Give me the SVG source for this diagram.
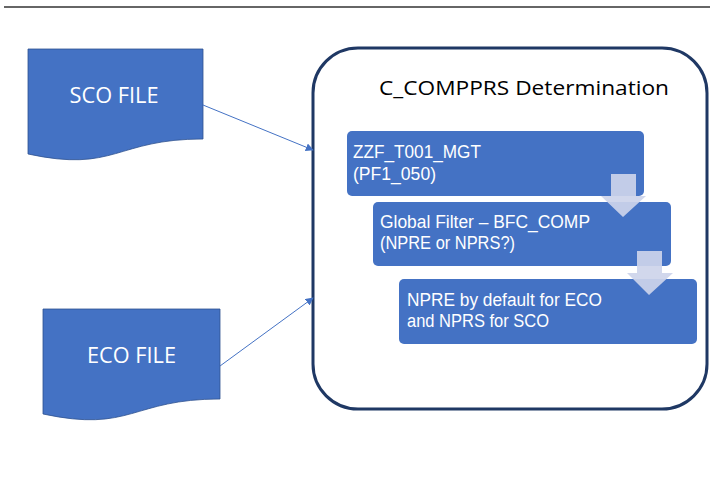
<svg xmlns="http://www.w3.org/2000/svg" width="710" height="504" viewBox="0 0 710 504">
<defs>
<style>
.doc{fill:#4472C4;stroke:#2F528F;stroke-width:0.8}
.box{fill:#4472C4}
.dt{font-family:"Open Sans","Noto Sans",sans-serif;font-size:21px;fill:#FFFFFF}
.bt{font-family:"Liberation Sans",Arial,sans-serif;font-size:18px;fill:#FFFFFF}
.tt{font-family:"Open Sans","Noto Sans",sans-serif;font-size:20px;fill:#000000}
.con{stroke:#4472C4;stroke-width:1;fill:none;marker-end:url(#ah)}
.dn{fill:#CDD4EA;opacity:0.92}
</style>
<marker id="ah" viewBox="0 0 10 10" refX="9" refY="5" markerWidth="8" markerHeight="8" markerUnits="userSpaceOnUse" orient="auto">
<path d="M0,0 L10,5 L0,10 Z" fill="#4472C4"/>
</marker>
</defs>
<rect width="710" height="504" fill="#FFFFFF"/>
<line x1="4" y1="7" x2="710" y2="7" stroke="#333333" stroke-width="1.3"/>
<g id="container">
<rect x="313" y="48" width="394" height="361" rx="45" ry="45" fill="#FFFFFF" stroke="#1F3864" stroke-width="3"/>
<text class="tt" x="379" y="95" textLength="290" lengthAdjust="spacingAndGlyphs">C_COMPPRS Determination</text>
</g>
<g id="sco">
<path class="doc" d="M28,49 H203 V139 C115.5,139 115.5,173 28,154 Z"/>
<text class="dt" x="114" y="103" text-anchor="middle" textLength="89" lengthAdjust="spacingAndGlyphs">SCO FILE</text>
</g>
<g id="eco">
<path class="doc" d="M43,309 H220 V399 C131.5,399 131.5,433 43,414 Z"/>
<text class="dt" x="131.5" y="363" text-anchor="middle" textLength="89" lengthAdjust="spacingAndGlyphs">ECO FILE</text>
</g>
<g id="step1">
<rect class="box" x="347" y="131" width="297" height="65" rx="5"/>
<text class="bt" x="353" y="158" textLength="128" lengthAdjust="spacingAndGlyphs">ZZF_T001_MGT</text>
<text class="bt" x="353" y="180" textLength="83" lengthAdjust="spacingAndGlyphs">(PF1_050)</text>
</g>
<g id="step2">
<rect class="box" x="373" y="202" width="298" height="64" rx="5"/>
<text class="bt" x="380" y="228" textLength="210" lengthAdjust="spacingAndGlyphs">Global Filter – BFC_COMP</text>
<text class="bt" x="380" y="249" textLength="135" lengthAdjust="spacingAndGlyphs">(NPRE or NPRS?)</text>
</g>
<g id="step3">
<rect class="box" x="399" y="279" width="298" height="65" rx="5"/>
<text class="bt" x="407" y="306" textLength="195" lengthAdjust="spacingAndGlyphs">NPRE by default for ECO</text>
<text class="bt" x="407" y="327" textLength="142" lengthAdjust="spacingAndGlyphs">and NPRS for SCO</text>
</g>
<g id="connectors">
<line class="con" x1="203" y1="105" x2="313" y2="150"/>
<line class="con" x1="220" y1="366" x2="313" y2="298"/>
<path class="dn" d="M611,174 H636 V196 H646 L623,217 L601,196 H611 Z"/>
<path class="dn" d="M637,251 H662 V273 H673 L649,295 L627,273 H637 Z"/>
</g>
</svg>
